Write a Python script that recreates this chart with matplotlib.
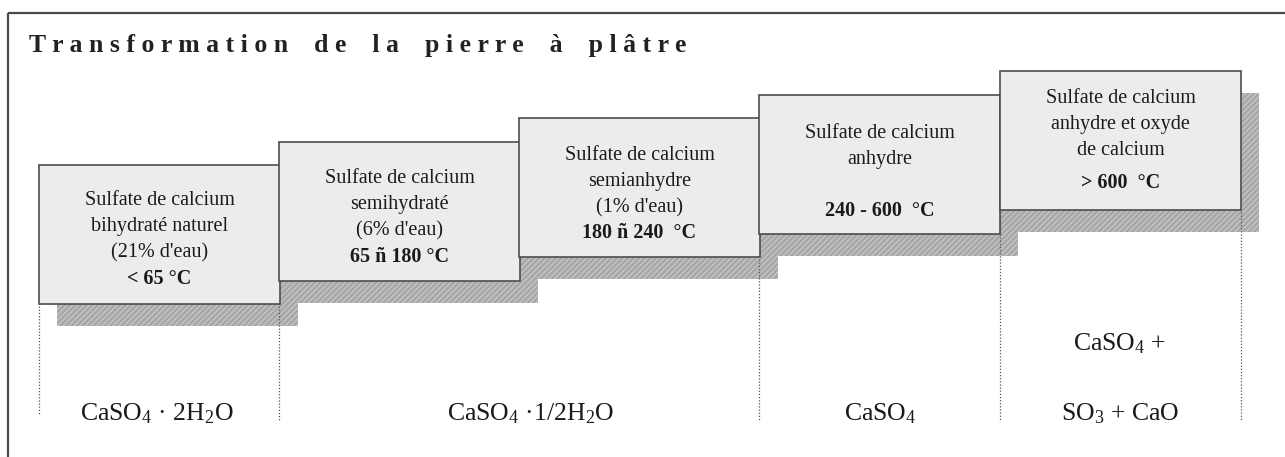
import matplotlib
matplotlib.use('Agg')
import matplotlib.pyplot as plt
from matplotlib.patches import Rectangle

plt.rcParams['font.family'] = ['Liberation Serif', 'DejaVu Serif']
plt.rcParams['mathtext.fontset'] = 'custom'
plt.rcParams['mathtext.rm'] = 'Liberation Serif'
plt.rcParams['mathtext.it'] = 'Liberation Serif:italic'
plt.rcParams['hatch.linewidth'] = 1.2

#############################################################################
# data
#############################################################################
title = "Transformation de la pierre à plâtre"

stage_names = [
    ["Sulfate de calcium", "bihydraté naturel", "(21% d'eau)"],
    ["Sulfate de calcium", "semihydraté", "(6% d'eau)"],
    ["Sulfate de calcium", "semianhydre", "(1% d'eau)"],
    ["Sulfate de calcium", "anhydre", ""],
    ["Sulfate de calcium", "anhydre et oxyde", "de calcium"],
]
temperatures = ["< 65 °C", "65 ñ 180 °C", "180 ñ 240  °C", "240 - 600  °C", "> 600  °C"]

formulas = [
    ["CaSO$_\\mathrm{4}$ · 2H$_\\mathrm{2}$O"],
    ["CaSO$_\\mathrm{4}$ ·1/2H$_\\mathrm{2}$O"],
    ["CaSO$_\\mathrm{4}$"],
    ["CaSO$_\\mathrm{4}$ +", "SO$_\\mathrm{3}$ + CaO"],
]

#############################################################################
# layout (pixels)
#############################################################################
W, H = 1285, 457
box_left = [39, 279, 519, 759, 1000]
box_top = [165, 142, 118, 95, 71]
box_w = 241
box_h = 139
shadow_dx, shadow_dy = 18, 22

text_dy = [5, 6, 7, 8, -3]      # decalage du bloc de texte
bold_gap = [0, 0, 0, 0, 7]      # espace en plus avant la temperature
line_step = 26

group_edges = [39, 279, 759, 1000, 1241]
group_line_top = [303, 303, 259, 212, 212]
group_line_bottom = [414, 420, 420, 421, 421]
formula_x = [157, 531, 880, 1120]

fig = plt.figure(figsize=(W / 100, H / 100), dpi=100)
ax = fig.add_axes([0, 0, 1, 1])
ax.set_xlim(0, W)
ax.set_ylim(H, 0)
ax.axis('off')

# cadre
ax.add_patch(Rectangle((8, 13), 1400, 600, fill=False, edgecolor='#4a4a4a', lw=1.6, zorder=1))

# titre
ax.text(29, 52, '    '.join(' '.join(w) for w in title.split(' ')),
        fontsize=18.5, fontweight='bold', color='#222222', ha='left', va='baseline')

# ombres
for x, y in zip(box_left, box_top):
    ax.add_patch(Rectangle((x + shadow_dx, y + shadow_dy), box_w, box_h,
                           facecolor='#a6a6a6', edgecolor='#c2c2c2', hatch='//////',
                           lw=0, zorder=2))

# lignes pointillees
for x, y0, y1 in zip(group_edges, group_line_top, group_line_bottom):
    ax.plot([x, x], [y0, y1], color='#555555', lw=0.9, ls=(0, (1, 1.5)), zorder=3)

# boites
for i, (x, y) in enumerate(zip(box_left, box_top)):
    ax.add_patch(Rectangle((x, y), box_w, box_h, facecolor='#ececec',
                           edgecolor='#4d4d4d', lw=1.2, zorder=4))
    lines = stage_names[i] + [temperatures[i]]
    cy = y + box_h / 2 + text_dy[i]
    for j, s in enumerate(lines):
        ty = cy + (j - 1.5) * line_step
        if j == 3:
            ty += bold_gap[i]
        ax.text(x + box_w / 2, ty, s, fontsize=14.5, ha='center', va='center',
                fontweight='bold' if j == 3 else 'normal', color='#1a1a1a', zorder=5)

# formules
for x, lines in zip(formula_x, formulas):
    for k, s in enumerate(reversed(lines)):
        ax.text(x, 420 - 70 * k, s, fontsize=18.5, ha='center', va='baseline',
                color='#1a1a1a', zorder=5)

fig.savefig('out.png', dpi=100, facecolor='white')
